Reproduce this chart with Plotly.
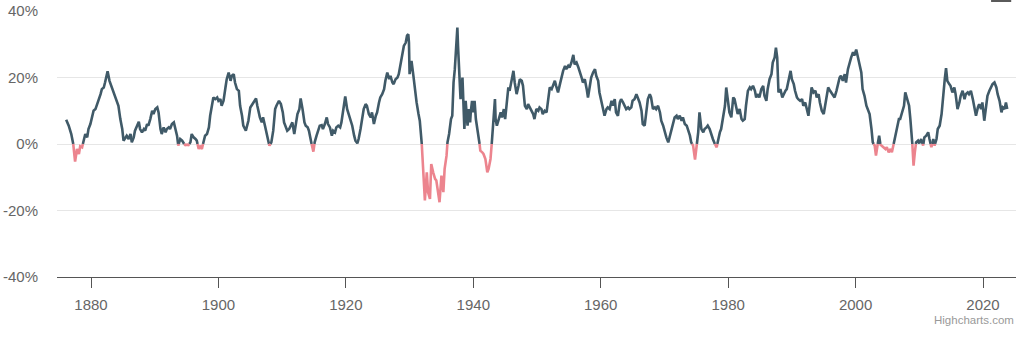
import plotly.graph_objects as go

# Years (decimal) and rolling return values (%)
years = [
    1876.1, 1876.5, 1876.9, 1877.2, 1877.5, 1877.8, 1878.1, 1878.3, 1878.6, 1878.9,
    1879.1, 1879.4, 1879.6, 1879.9, 1880.2, 1880.4, 1880.7, 1880.9, 1881.2, 1881.5,
    1881.7, 1882.0, 1882.2, 1882.6, 1882.9, 1883.1, 1883.4, 1883.8, 1884.1, 1884.3,
    1884.6, 1884.9, 1885.1, 1885.4, 1885.6, 1885.9, 1886.2, 1886.4, 1886.7, 1886.9,
    1887.2, 1887.5, 1887.7, 1888.0, 1888.3, 1888.5, 1888.8, 1889.0, 1889.3, 1889.6,
    1889.8, 1890.1, 1890.4, 1890.6, 1890.9, 1891.1, 1891.4, 1891.7, 1891.9, 1892.2,
    1892.4, 1892.7, 1893.0, 1893.2, 1893.5, 1893.7, 1894.0, 1894.3, 1894.5, 1894.8,
    1895.1, 1895.3, 1895.6, 1895.8, 1896.1, 1896.4, 1896.6, 1896.9, 1897.1, 1897.4,
    1897.7, 1897.9, 1898.2, 1898.5, 1898.7, 1899.0, 1899.2, 1899.5, 1899.8, 1900.0,
    1900.3, 1900.5, 1900.8, 1901.1, 1901.3, 1901.6, 1901.9, 1902.1, 1902.4, 1902.6,
    1902.9, 1903.2, 1903.4, 1903.7, 1903.9, 1904.3, 1904.7, 1905.0, 1905.5, 1905.9,
    1906.1, 1906.5, 1906.8, 1907.0, 1907.3, 1907.6, 1908.0, 1908.3, 1908.6, 1908.9,
    1909.1, 1909.5, 1909.8, 1910.1, 1910.3, 1910.6, 1910.8, 1911.1, 1911.4, 1911.6,
    1911.9, 1912.2, 1912.4, 1912.7, 1912.9, 1913.2, 1913.5, 1913.7, 1914.0, 1914.2,
    1914.5, 1914.9, 1915.1, 1915.4, 1915.7, 1915.9, 1916.2, 1916.4, 1916.7, 1917.0,
    1917.2, 1917.5, 1917.8, 1918.0, 1918.3, 1918.5, 1918.8, 1919.1, 1919.3, 1919.6,
    1919.9, 1920.2, 1920.5, 1920.7, 1921.0, 1921.3, 1921.5, 1921.8, 1922.0, 1922.3,
    1922.6, 1922.8, 1923.1, 1923.3, 1923.6, 1923.9, 1924.1, 1924.4, 1924.7, 1924.9,
    1925.2, 1925.4, 1925.7, 1926.0, 1926.2, 1926.5, 1926.8, 1927.0, 1927.3, 1927.5,
    1927.8, 1928.1, 1928.3, 1928.6, 1928.8, 1929.1, 1929.4, 1929.6, 1929.8, 1929.9,
    1930.0, 1930.3, 1930.6, 1930.8, 1931.1, 1931.4, 1931.6, 1931.9, 1932.1, 1932.4,
    1932.7, 1932.9, 1933.2, 1933.4, 1933.7, 1934.0, 1934.2, 1934.5, 1934.7, 1935.0,
    1935.3, 1935.5, 1935.8, 1935.95, 1936.2, 1936.5, 1936.7, 1936.9, 1937.1, 1937.3,
    1937.5, 1937.6, 1937.8, 1938.0, 1938.3, 1938.4, 1938.6, 1938.8, 1939.0, 1939.1,
    1939.3, 1939.5, 1939.6, 1939.8, 1940.0, 1940.2, 1940.4, 1940.6, 1940.9, 1941.1,
    1941.4, 1941.6, 1941.9, 1942.2, 1942.4, 1942.7, 1942.9, 1943.1, 1943.4, 1943.5,
    1943.7, 1944.0, 1944.3, 1944.5, 1944.8, 1945.0, 1945.3, 1945.5, 1945.7, 1946.0,
    1946.3, 1946.5, 1946.8, 1947.1, 1947.3, 1947.6, 1947.8, 1948.1, 1948.4, 1948.6,
    1948.9, 1949.1, 1949.4, 1949.6, 1949.9, 1950.2, 1950.4, 1950.7, 1950.9, 1951.2,
    1951.5, 1951.7, 1952.0, 1952.3, 1952.5, 1952.8, 1953.0, 1953.3, 1953.6, 1953.8,
    1954.1, 1954.4, 1954.6, 1954.9, 1955.1, 1955.4, 1955.7, 1955.9, 1956.2, 1956.5,
    1956.7, 1957.0, 1957.2, 1957.5, 1957.8, 1958.0, 1958.3, 1958.5, 1958.8, 1959.1,
    1959.3, 1959.6, 1959.8, 1960.1, 1960.4, 1960.6, 1960.9, 1961.1, 1961.4, 1961.7,
    1961.9, 1962.2, 1962.4, 1962.7, 1963.0, 1963.2, 1963.5, 1963.8, 1964.0, 1964.3,
    1964.5, 1964.8, 1965.0, 1965.3, 1965.6, 1965.8, 1966.1, 1966.4, 1966.6, 1966.9,
    1967.2, 1967.4, 1967.7, 1967.9, 1968.2, 1968.5, 1968.7, 1969.0, 1969.3, 1969.5,
    1969.8, 1970.0, 1970.3, 1970.6, 1970.8, 1971.1, 1971.4, 1971.6, 1971.9, 1972.1,
    1972.4, 1972.7, 1972.9, 1973.2, 1973.5, 1973.7, 1974.0, 1974.2, 1974.5, 1974.8,
    1975.0, 1975.3, 1975.5, 1975.8, 1976.1, 1976.3, 1976.6, 1976.8, 1977.1, 1977.4,
    1977.6, 1977.9, 1978.2, 1978.4, 1978.7, 1978.9, 1979.2, 1979.5, 1979.7, 1980.0,
    1980.2, 1980.5, 1980.8, 1981.0, 1981.3, 1981.5, 1981.8, 1982.1, 1982.3, 1982.6,
    1982.8, 1983.1, 1983.4, 1983.6, 1983.9, 1984.2, 1984.4, 1984.7, 1984.9, 1985.2,
    1985.5, 1985.7, 1986.0, 1986.2, 1986.5, 1986.8, 1987.0, 1987.3, 1987.5, 1987.7,
    1987.9, 1988.2, 1988.5, 1988.7, 1989.0, 1989.2, 1989.5, 1989.8, 1990.0, 1990.3,
    1990.5, 1990.8, 1991.0, 1991.3, 1991.6, 1991.8, 1992.1, 1992.4, 1992.6, 1992.9,
    1993.1, 1993.4, 1993.7, 1993.9, 1994.2, 1994.4, 1994.7, 1995.0, 1995.2, 1995.5,
    1995.7, 1996.0, 1996.4, 1996.7, 1997.0, 1997.2, 1997.5, 1997.7, 1998.0, 1998.3,
    1998.5, 1998.8, 1999.1, 1999.3, 1999.6, 1999.8, 2000.1, 2000.4, 2000.6, 2000.9,
    2001.1, 2001.4, 2001.7, 2001.9, 2002.2, 2002.5, 2002.7, 2003.0, 2003.2, 2003.5,
    2003.7, 2003.9, 2004.1, 2004.4, 2004.7, 2004.9, 2005.2, 2005.5, 2005.7, 2006.0,
    2006.2, 2006.5, 2006.8, 2007.0, 2007.3, 2007.6, 2007.8, 2008.1, 2008.4, 2008.6,
    2008.9, 2009.1, 2009.3, 2009.5, 2009.8, 2010.0, 2010.3, 2010.6, 2010.8, 2011.1,
    2011.4, 2011.6, 2011.9, 2012.2, 2012.4, 2012.7, 2012.9, 2013.2, 2013.5, 2013.7,
    2014.0, 2014.2, 2014.4, 2014.7, 2014.9, 2015.2, 2015.5, 2015.7, 2016.0, 2016.3,
    2016.5, 2016.8, 2017.1, 2017.3, 2017.6, 2017.8, 2018.1, 2018.4, 2018.6, 2018.9,
    2019.2, 2019.4, 2019.7, 2019.9, 2020.2, 2020.5, 2020.7, 2021.0, 2021.3, 2021.5,
    2021.8, 2022.1, 2022.3, 2022.6, 2022.9, 2023.1, 2023.4, 2023.6, 2023.8,
]

returns = [
    7.3, 5.5, 3.0, 0.2, -5.3, -1.5, -3.0, -0.7, -1.0, 1.5,
    3.0, 2.0, 4.5, 6.0, 8.5, 10.0, 10.5, 11.5, 13.0, 15.0,
    16.5, 17.0, 18.5, 21.9, 19.0, 18.0, 16.5, 14.5, 13.0, 11.5,
    7.5, 4.5, 1.0, 2.0, 2.5, 1.5, 3.0, 0.5, 2.0, 4.0,
    5.5, 6.7, 4.5, 3.5, 4.5, 4.0, 6.0, 5.5, 7.5, 10.0,
    9.0, 10.5, 11.0, 9.5, 4.5, 3.0, 5.0, 3.5, 4.5, 5.0,
    4.5, 6.0, 6.5, 5.0, 2.5, -0.5, 1.5, 1.0, 0.2, -0.3,
    -0.2, -0.3, 0.5, 3.0, 2.0, 1.5, 1.0, -1.5, -0.5, -1.5,
    1.0, 2.5, 3.0, 5.0, 8.5, 12.0, 14.0, 13.5, 14.0, 13.0,
    13.5, 11.5, 13.0, 17.0, 19.5, 21.5, 19.0, 20.5, 21.0, 18.5,
    16.5, 16.0, 11.5, 8.5, 5.5, 4.0, 7.0, 11.0, 12.5, 13.7,
    11.5, 8.0, 6.5, 8.0, 5.5, 2.5, -0.5, 0.5, 4.0, 10.5,
    11.5, 13.0, 12.0, 9.5, 6.5, 5.0, 4.0, 4.5, 5.5, 6.5,
    3.0, 7.0, 9.0, 10.5, 13.7, 10.5, 6.5, 5.5, 5.0, 4.0,
    1.0, -2.3, 0.5, 2.5, 4.5, 5.5, 5.7, 4.5, 6.0, 8.0,
    6.0, 5.0, 2.5, 4.0, 3.5, 5.0, 5.5, 5.0, 6.5, 10.5,
    14.3, 10.5, 8.5, 7.0, 5.5, 2.5, 1.0, 0.2, 1.5, 4.5,
    7.5, 10.5, 12.0, 11.5, 9.0, 8.0, 9.5, 6.0, 8.5, 9.5,
    12.5, 14.0, 15.0, 16.5, 19.0, 21.5, 19.5, 20.5, 18.5, 18.0,
    19.5, 20.0, 21.0, 24.0, 27.0, 29.5, 30.5, 32.6, 33.0, 30.5,
    21.0, 25.0, 20.5, 16.5, 12.5, 9.0, 7.0, 0.3, -5.5, -17.0,
    -8.5, -14.5, -16.5, -6.0, -8.5, -10.5, -11.0, -14.5, -17.5, -9.5,
    -14.5, -7.5, -3.5, 0.5, 3.0, 7.5, 8.5, 18.5, 22.5, 27.6,
    35.0, 29.5, 19.5, 13.5, 20.0, 12.5, 4.5, 13.0, 7.5, 5.5,
    10.5, 6.5, 9.5, 13.0, 9.5, 13.0, 7.5, 4.5, 1.5, -2.0,
    -2.5, -3.0, -4.5, -8.5, -7.5, -4.5, 0.2, 6.5, 13.5, 7.5,
    5.5, 7.5, 9.5, 8.0, 10.5, 7.5, 12.5, 17.0, 16.0, 18.5,
    22.0, 18.5, 15.0, 17.5, 19.5, 19.0, 17.5, 11.5, 10.5, 12.0,
    11.0, 10.0, 9.0, 7.5, 10.5, 10.0, 11.0, 10.5, 9.0, 10.0,
    9.5, 12.5, 17.0, 16.5, 17.5, 19.0, 17.5, 15.5, 18.0, 20.0,
    22.0, 23.5, 22.5, 23.5, 23.0, 24.5, 26.8, 24.0, 24.5, 23.0,
    22.0, 20.0, 18.5, 19.5, 16.5, 14.0, 17.5, 20.0, 21.5, 22.5,
    20.5, 19.0, 15.5, 13.0, 11.0, 8.5, 10.5, 11.0, 10.5, 13.0,
    11.5, 13.5, 9.5, 8.5, 12.5, 13.5, 12.5, 11.0, 10.5, 11.0,
    10.5, 11.0, 13.0, 13.5, 15.0, 14.0, 12.5, 10.0, 6.0, 5.5,
    9.5, 13.5, 15.0, 14.0, 10.5, 11.0, 10.5, 11.5, 9.5, 7.0,
    5.5, 4.0, 2.0, 0.5, 2.0, 4.0, 6.5, 8.0, 8.5, 7.5,
    8.5, 7.0, 8.0, 6.0, 5.5, 4.5, 2.5, 0.5, -0.5, -4.7,
    -1.5, 3.5, 9.5, 4.5, 3.5, 4.5, 5.0, 5.5, 4.5, 2.5,
    1.5, 0.1, -1.0, 1.0, 3.5, 4.5, 7.5, 11.5, 17.0, 13.0,
    9.5, 8.0, 14.0, 13.5, 11.0, 9.0, 10.5, 7.5, 7.0, 7.5,
    11.5, 16.0, 17.0, 16.5, 17.5, 16.0, 14.0, 15.0, 14.0, 16.5,
    17.5, 14.5, 13.0, 16.5, 19.5, 21.0, 24.5, 26.0, 29.0, 26.0,
    15.5, 16.5, 14.0, 15.0, 16.0, 16.5, 19.5, 22.0, 19.5, 18.0,
    16.0, 14.0, 13.5, 13.0, 13.5, 11.5, 12.5, 10.0, 8.5, 13.5,
    17.0, 15.5, 16.0, 14.0, 15.0, 12.5, 10.0, 9.0, 11.0, 14.0,
    17.0, 16.0, 15.0, 14.0, 16.0, 18.0, 20.0, 20.5, 19.0, 21.0,
    18.5, 22.5, 25.0, 26.0, 27.6, 26.6, 28.4, 25.6, 24.5, 21.5,
    16.5, 14.5, 11.5, 10.5, 9.0, 4.5, 0.5, -0.5, -3.5, 0.3,
    2.5, -0.2, -0.5, -1.0, -1.5, -1.0, -2.5, -1.5, -2.5, 0.2,
    2.5, 4.5, 7.5, 7.5, 9.5, 11.5, 15.5, 13.0, 11.5, 7.5,
    0.3, -6.5, -2.5, 0.5, 1.0, 0.2, 1.5, -0.5, 2.0, 2.5,
    3.5, 1.5, -1.0, 1.5, -0.5, 1.5, 4.5, 5.5, 9.0, 14.5,
    19.5, 22.8, 19.0, 18.0, 17.5, 15.5, 17.0, 15.0, 10.5, 12.5,
    14.5, 16.0, 13.5, 15.0, 15.5, 15.0, 16.0, 13.5, 11.5, 8.5,
    11.0, 12.0, 10.5, 12.5, 7.0, 12.0, 14.5, 16.0, 17.5, 18.0,
    18.5, 17.0, 15.0, 13.0, 9.5, 11.0, 10.5, 12.5, 10.5,
]

x_ticks = [1880, 1900, 1920, 1940, 1960, 1980, 2000, 2020]
y_ticks = [-40, -20, 0, 20, 40]

POS_COLOR = "#405a68"
NEG_COLOR = "#ec848e"

# Zone split at 0 (like Highcharts zones)
pos_x, pos_y, neg_x, neg_y = [], [], [], []
for i, (xv, yv) in enumerate(zip(years, returns)):
    if i > 0:
        xp, yp = years[i - 1], returns[i - 1]
        if (yp < 0) != (yv < 0):
            xc = xp + (xv - xp) * (0 - yp) / (yv - yp)
            pos_x.append(xc); pos_y.append(0)
            neg_x.append(xc); neg_y.append(0)
            if yv < 0:
                pos_x.append(None); pos_y.append(None)
            else:
                neg_x.append(None); neg_y.append(None)
    if yv >= 0:
        pos_x.append(xv); pos_y.append(yv)
    else:
        neg_x.append(xv); neg_y.append(yv)

fig = go.Figure()
fig.add_trace(go.Scatter(x=pos_x, y=pos_y, mode="lines",
                         line=dict(color=POS_COLOR, width=2.6),
                         connectgaps=False, hoverinfo="skip"))
fig.add_trace(go.Scatter(x=neg_x, y=neg_y, mode="lines",
                         line=dict(color=NEG_COLOR, width=2.6),
                         connectgaps=False, hoverinfo="skip"))

FONT = "Liberation Sans, Arial, sans-serif"

fig.update_layout(
    width=1024, height=337,
    margin=dict(l=57, r=8, t=11, b=60),
    paper_bgcolor="white", plot_bgcolor="white",
    showlegend=False,
    font=dict(family=FONT, size=15, color="#666666"),
    xaxis=dict(
        range=[1874.66, 2025.18],
        tickvals=x_ticks,
        ticktext=[str(v) for v in x_ticks],
        showgrid=False, zeroline=False,
        showline=True, linecolor="#555555", linewidth=1,
        ticks="outside", ticklen=10, tickcolor="#555555", tickwidth=1,
        tickfont=dict(size=15, color="#666666"),
        ticklabelstandoff=4,
        automargin=False,
    ),
    yaxis=dict(
        range=[-40, 40],
        tickvals=y_ticks,
        ticktext=[f"{v}%" for v in y_ticks],
        showgrid=True, gridcolor="#e6e6e6", gridwidth=1,
        zeroline=False, showline=False,
        tickfont=dict(size=15, color="#666666"),
        ticklabelstandoff=18,
        automargin=False,
    ),
    shapes=[
        dict(type="rect", xref="paper", yref="paper",
             x0=0.974, x1=0.995, y0=1.0338, y1=1.05,
             fillcolor="#5a5a5a", line=dict(width=0)),
    ],
    annotations=[
        dict(text="Highcharts.com", xref="paper", yref="paper",
             x=1.0, y=-0.16, xanchor="right", yanchor="middle",
             showarrow=False, font=dict(family=FONT, size=11.5, color="#999999")),
    ],
)

fig.write_html(
    "out.html",
    config={"displayModeBar": False},
    post_script="document.body.style.margin='0';document.body.style.overflow='hidden';",
)
